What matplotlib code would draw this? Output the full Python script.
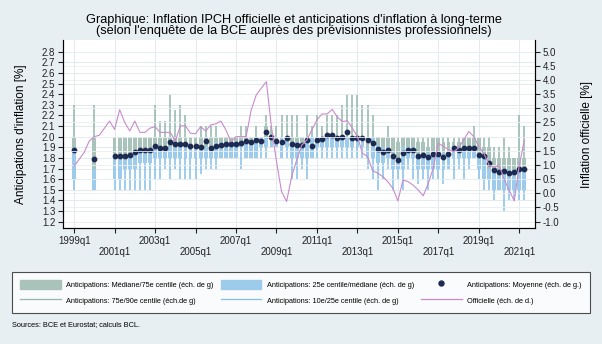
import numpy as np
import matplotlib.pyplot as plt
from matplotlib.patches import Patch
from matplotlib.lines import Line2D

plt.rcParams['font.family'] = ['Liberation Sans', 'DejaVu Sans']

# trimestres de l'enquête: 1999q1, 2000q1 puis 2001q1 -> 2021q2
periodes = ["1999q1", "2000q1"] + [f"{a}q{t}" for a in range(2001, 2022) for t in range(1, 5)][:82]

moyenne = [1.87, 1.79,
           1.82, 1.82, 1.82, 1.83,
           1.86, 1.87, 1.87, 1.87,
           1.91, 1.89, 1.89, 1.95,
           1.93, 1.93, 1.93, 1.91,
           1.91, 1.90, 1.96, 1.89,
           1.91, 1.92, 1.93, 1.93,
           1.93, 1.94, 1.96, 1.95,
           1.97, 1.96, 2.04, 2.00,
           1.96, 1.95, 1.99, 1.93,
           1.92, 1.92, 1.97, 1.91,
           1.97, 1.98, 2.02, 2.02,
           1.99, 2.00, 2.04, 1.99,
           1.99, 1.99, 1.97, 1.94,
           1.88, 1.86, 1.87, 1.82,
           1.78, 1.85, 1.875, 1.875,
           1.82, 1.83, 1.81, 1.84,
           1.84, 1.81, 1.84, 1.89,
           1.87, 1.89, 1.89, 1.89,
           1.83, 1.82, 1.75, 1.69,
           1.67, 1.68, 1.66, 1.67,
           1.70, 1.70]

p10 = [1.5, 1.5,
       1.5, 1.5, 1.5, 1.5,
       1.5, 1.5, 1.5, 1.5,
       1.6, 1.6, 1.7, 1.6,
       1.7, 1.6, 1.6, 1.6,
       1.6, 1.65, 1.7, 1.7,
       1.7, 1.8, 1.8, 1.8,
       1.8, 1.7, 1.8, 1.8,
       1.8, 1.8, 1.8, 1.9,
       1.9, 1.8, 1.8, 1.6,
       1.6, 1.7, 1.6, 1.8,
       1.8, 1.8, 1.8, 1.8,
       1.8, 1.8, 1.8, 1.8,
       1.8, 1.8, 1.7, 1.6,
       1.5, 1.6, 1.7, 1.5,
       1.6, 1.5, 1.7, 1.6,
       1.55, 1.6, 1.5, 1.6,
       1.6, 1.55, 1.7, 1.6,
       1.7, 1.6, 1.7, 1.8,
       1.6, 1.5, 1.5, 1.4,
       1.5, 1.3, 1.4, 1.4,
       1.4, 1.4]

p25 = [1.6, 1.5,
       1.6, 1.6, 1.7, 1.7,
       1.7, 1.75, 1.75, 1.75,
       1.8, 1.8, 1.8, 1.8,
       1.8, 1.8, 1.8, 1.8,
       1.8, 1.8, 1.8, 1.8,
       1.8, 1.8, 1.8, 1.8,
       1.8, 1.9, 1.8, 1.8,
       1.8, 1.9, 1.9, 1.9,
       1.9, 1.8, 1.9, 1.8,
       1.8, 1.8, 1.8, 1.8,
       1.9, 1.9, 1.9, 1.9,
       1.9, 1.9, 1.9, 1.9,
       1.9, 1.9, 1.8, 1.8,
       1.75, 1.75, 1.8, 1.7,
       1.7, 1.7, 1.8, 1.8,
       1.7, 1.7, 1.7, 1.7,
       1.7, 1.7, 1.7, 1.8,
       1.8, 1.8, 1.8, 1.8,
       1.7, 1.6, 1.6, 1.5,
       1.5, 1.5, 1.5, 1.5,
       1.5, 1.5]

mediane = [1.9, 1.7,
           1.8, 1.8, 1.8, 1.8,
           1.85, 1.85, 1.85, 1.85,
           1.9, 1.9, 1.9, 1.9,
           1.9, 1.9, 1.9, 1.9,
           1.9, 1.9, 1.9, 1.9,
           1.95, 1.95, 1.95, 1.95,
           1.95, 1.95, 1.95, 1.95,
           2.0, 2.0, 2.0, 1.95,
           1.95, 2.0, 2.0, 1.95,
           1.95, 1.9, 2.0, 2.0,
           2.0, 2.0, 2.0, 2.0,
           2.0, 2.0, 2.0, 2.0,
           2.0, 2.0, 1.9, 2.0,
           1.92, 1.9, 1.9, 1.85,
           1.8, 1.9, 1.9, 1.9,
           1.85, 1.85, 1.85, 1.85,
           1.85, 1.85, 1.85, 1.9,
           1.9, 1.9, 1.9, 1.9,
           1.85, 1.8, 1.7, 1.7,
           1.7, 1.7, 1.7, 1.65,
           1.7, 1.7]

p75 = [2.0, 2.0,
       2.0, 2.0, 2.0, 2.0,
       2.0, 2.0, 2.0, 2.0,
       2.0, 2.0, 2.0, 2.0,
       2.0, 2.0, 2.0, 2.0,
       2.0, 2.0, 2.0, 2.0,
       2.0, 2.0, 2.0, 2.0,
       2.0, 2.0, 2.0, 2.0,
       2.0, 2.0, 2.1, 2.0,
       2.0, 2.0, 2.0, 2.0,
       2.0, 2.0, 2.0, 2.0,
       2.0, 2.0, 2.0, 2.0,
       2.0, 2.0, 2.0, 2.0,
       2.0, 2.0, 2.0, 2.0,
       2.0, 2.0, 2.0, 2.0,
       1.95, 2.0, 2.0, 2.0,
       1.95, 1.95, 1.9, 2.0,
       2.0, 1.95, 1.95, 1.95,
       1.95, 2.0, 2.0, 2.0,
       2.0, 1.9, 1.9, 1.8,
       1.8, 1.8, 1.8, 1.8,
       1.8, 1.8]

p90 = [2.3, 2.3,
       2.0, 2.0, 2.0, 2.0,
       2.0, 2.0, 2.0, 2.0,
       2.3, 2.15, 2.15, 2.4,
       2.25, 2.3, 2.2, 2.0,
       2.0, 2.1, 2.1, 2.1,
       2.1, 2.0, 2.0, 2.0,
       2.0, 2.1, 2.1, 2.0,
       2.1, 2.0, 2.2, 2.1,
       2.1, 2.2, 2.2, 2.2,
       2.2, 2.0, 2.2, 2.1,
       2.2, 2.1, 2.2, 2.2,
       2.2, 2.3, 2.4, 2.4,
       2.4, 2.3, 2.3, 2.2,
       2.0, 2.0, 2.1, 2.0,
       2.0, 2.0, 2.0, 2.0,
       2.0, 2.0, 2.0, 2.0,
       2.0, 2.0, 2.0, 2.0,
       2.0, 2.0, 2.0, 2.1,
       2.0, 2.0, 2.0, 1.9,
       1.9, 2.0, 1.9, 1.8,
       2.2, 2.1]

# inflation IPCH officielle, glissement annuel, 1999q1 -> 2021q2
inflation = [0.96, 1.2, 1.45, 1.85,
             2.0, 2.05, 2.3, 2.55,
             2.25, 2.95, 2.5, 2.2,
             2.55, 2.15, 2.15, 2.3,
             2.35, 2.15, 2.15, 2.15,
             1.85, 2.38, 2.38, 2.12,
             2.1, 2.35, 2.2, 2.41,
             2.45, 2.55, 2.24, 1.82,
             2.0, 2.0, 2.0, 2.94,
             3.47, 3.71, 3.94, 2.35,
             1.12, 0.06, -0.29, 0.59,
             1.18, 1.7, 1.88, 2.24,
             2.59, 2.8, 2.8, 2.96,
             2.7, 2.53, 2.56, 2.3,
             2.0, 1.41, 1.3, 0.8,
             0.71, 0.59, 0.41, 0.18,
             -0.27, 0.47, 0.41, 0.29,
             0.12, -0.09, 0.35, 0.9,
             1.77, 1.65, 1.55, 1.47,
             1.6, 1.88, 2.18, 2.0,
             1.65, 1.41, 1.0, 0.9,
             1.0, 0.5, 0.1, -0.27,
             1.0, 1.88]

def trim(p):
    return (int(p[:4]) - 1999) * 4 + int(p[-1]) - 1

x = np.array([trim(p) for p in periodes])
x_infl = np.arange(len(inflation))

c_vert = '#A9C3BB'
c_bleu = '#9CCBEC'
c_vert_l = '#93B7AC'
c_bleu_l = '#85C0EA'
c_moy = '#1D2A52'
c_off = '#C98BCC'
fond = '#E8EFF2'

fig = plt.figure(figsize=(6.02, 3.44), dpi=100, facecolor=fond)
ax = fig.add_axes([63 / 602, 1 - 228 / 344, 472 / 602, 188 / 344])
ax.set_facecolor('white')

p10, p25, mediane, p75, p90 = map(np.array, (p10, p25, mediane, p75, p90))
# moustaches 75e/90e et 10e/25e, puis boîtes médiane/75e et 25e/médiane
ax.vlines(x, p75, p90, color=c_vert_l, lw=1.1, zorder=2)
ax.vlines(x, p10, p25, color=c_bleu_l, lw=1.1, zorder=2)
ax.bar(x, p75 - mediane, bottom=mediane, width=0.75, color=c_vert, zorder=3)
ax.bar(x, mediane - p25, bottom=p25, width=0.75, color=c_bleu, zorder=3)
ax.scatter(x, moyenne, s=10, color=c_moy, zorder=5)

ax.set_xlim(-2.2, 91.1)
ax.set_ylim(1.14, 2.91)
ax.set_yticks(np.round(np.arange(1.2, 2.81, 0.1), 1))
ax.set_yticklabels([f"{v:.1f}" for v in np.arange(1.2, 2.81, 0.1)])
xt = np.arange(0, 89, 8)
ax.set_xticks(xt)
ax.set_xticklabels([f"{1999 + t // 4}q1" if i % 2 == 0 else f"\n{1999 + t // 4}q1"
                    for i, t in enumerate(xt)])
ax.tick_params(labelsize=7, length=3.5, width=0.8, pad=2, colors='#222222')
ax.grid(True, color='#E2EAEE', lw=0.7, zorder=0)
ax.set_axisbelow(True)
ax.spines['top'].set_visible(False)
for s in ('left', 'bottom', 'right'):
    ax.spines[s].set_color('#222222')
    ax.spines[s].set_linewidth(0.8)
ax.set_ylabel("Anticipations d'inflation [%]", fontsize=8.5, labelpad=11)

ax2 = ax.twinx()
ax2.plot(x_infl, inflation, color=c_off, lw=0.8, zorder=4)
ax2.set_ylim(-1.225, 5.41)
ax2.set_yticks(np.arange(-1, 5.01, 0.5))
ax2.set_yticklabels([f"{v:.1f}" for v in np.arange(-1, 5.01, 0.5)])
ax2.tick_params(labelsize=7, length=3.5, width=0.8, pad=2, colors='#222222')
ax2.grid(True, axis='y', color='#E8EEF1', lw=0.6)
ax2.spines['top'].set_visible(False)
ax2.set_ylabel("Inflation officielle [%]", fontsize=8.5, labelpad=16)

fig.text(294 / 602, 1 - 25.5 / 344,
         "Graphique: Inflation IPCH officielle et anticipations d'inflation à long-terme\n"
         "(selon l'enquête de la BCE auprès des prévisionnistes professionnels)",
         ha='center', va='center', fontsize=9.2, linespacing=0.95)

handles = [Patch(color=c_vert), Patch(color=c_bleu),
           Line2D([], [], ls='none', marker='o', ms=3.6, color=c_moy),
           Line2D([], [], color=c_vert_l, lw=0.9), Line2D([], [], color=c_bleu_l, lw=0.9),
           Line2D([], [], color=c_off, lw=0.9)]
labels = ["Anticipations: Médiane/75e centile (éch. de g)",
          "Anticipations: 25e centile/médiane (éch. de g)",
          "Anticipations: Moyenne (éch. de g.)",
          "Anticipations: 75e/90e centile (éch.de g)",
          "Anticipations: 10e/25e centile (éch. de g)",
          "Officielle (éch. de d.)"]
order = [0, 3, 1, 4, 2, 5]
leg = fig.legend([handles[i] for i in order], [labels[i] for i in order], ncol=3,
                 loc='lower left', mode='expand',
                 bbox_to_anchor=(12 / 602, 1 - 313 / 344, 578 / 602, 41 / 344),
                 fontsize=5.3, frameon=True, fancybox=False, edgecolor='#222222',
                 handlelength=5.5, handleheight=1.6, handletextpad=0.8,
                 borderaxespad=0, borderpad=1.1, labelspacing=0.85)
leg.get_frame().set_linewidth(0.8)

fig.text(12 / 602, 1 - 325 / 344, "Sources: BCE et Eurostat; calculs BCL.",
         fontsize=5.3, va='center')

fig.savefig('out.png', dpi=100, facecolor=fond)
